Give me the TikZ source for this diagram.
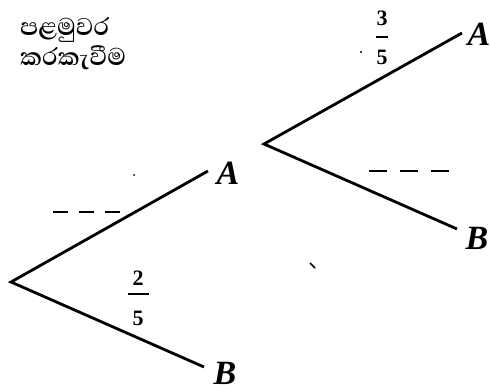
\documentclass[tikz,border=0pt]{standalone}
\usepackage{fontspec}
\setmainfont{Liberation Serif}
\newfontfamily\sinhalafont[Script=Sinhala]{Abhaya Libre}
\begin{document}
\begin{tikzpicture}[x=1pt,y=-1pt,
  branch/.style={line width=2.8pt},
  gapa/.style={line width=1.8pt, dash pattern=on 15pt off 11pt},
  gapb/.style={line width=1.8pt, dash pattern=on 18pt off 13pt},
  lbl/.style={font=\fontsize{34}{36}\selectfont\bfseries\itshape, inner sep=0pt},
  frac/.style={font=\fontsize{22}{23}\selectfont\bfseries, inner sep=0pt},
  title/.style={font=\fontsize{31}{33}\selectfont\sinhalafont\bfseries, inner sep=0pt, anchor=west}]
\useasboundingbox (0,0) rectangle (490,385);
% title
\node[title] (t1) at (20,30) {පළමුවර};
\node[title] (t2) at (20,58) {කරකැවීම};
% left tree
\coordinate (r1) at (11,282);
\coordinate (e1a) at (208,171);
\coordinate (e1b) at (204,367);
\draw[branch] (e1a) -- (r1) -- (e1b);
\node[lbl] (A1) at (228,173) {A};
\node[lbl] (B1) at (225,373) {B};
% right tree
\coordinate (r2) at (264,144);
\coordinate (e2a) at (462,33);
\coordinate (e2b) at (457,229);
\draw[branch] (e2a) -- (r2) -- (e2b);
\node[lbl] (A2) at (479,34) {A};
\node[lbl] (B2) at (477,238) {B};
% dashed blanks
\coordinate (d1s) at (53,212);
\coordinate (d1e) at (120,212);
\draw[gapa] (d1s) -- (d1e);
\coordinate (d2s) at (369,171);
\coordinate (d2e) at (449,171);
\draw[gapb] (d2s) -- (d2e);
% fractions
\node[frac] (n1) at (138,278) {2};
\node[frac] (m1) at (138,318) {5};
\coordinate (b1s) at (128,294);
\coordinate (b1e) at (149,294);
\draw[line width=1.8pt] (b1s) -- (b1e);
\node[frac] (n2) at (382,18) {3};
\node[frac] (m2) at (382,57) {5};
\coordinate (b2s) at (376,37);
\coordinate (b2e) at (388,37);
\draw[line width=1.8pt] (b2s) -- (b2e);
% stray marks
\fill (134,175) circle (1pt);
\fill (361,52) circle (1.1pt);
\coordinate (s1) at (310,263);
\coordinate (s2) at (315,268);
\draw[line width=1.5pt] (s1) -- (s2);
\end{tikzpicture}
\end{document}
